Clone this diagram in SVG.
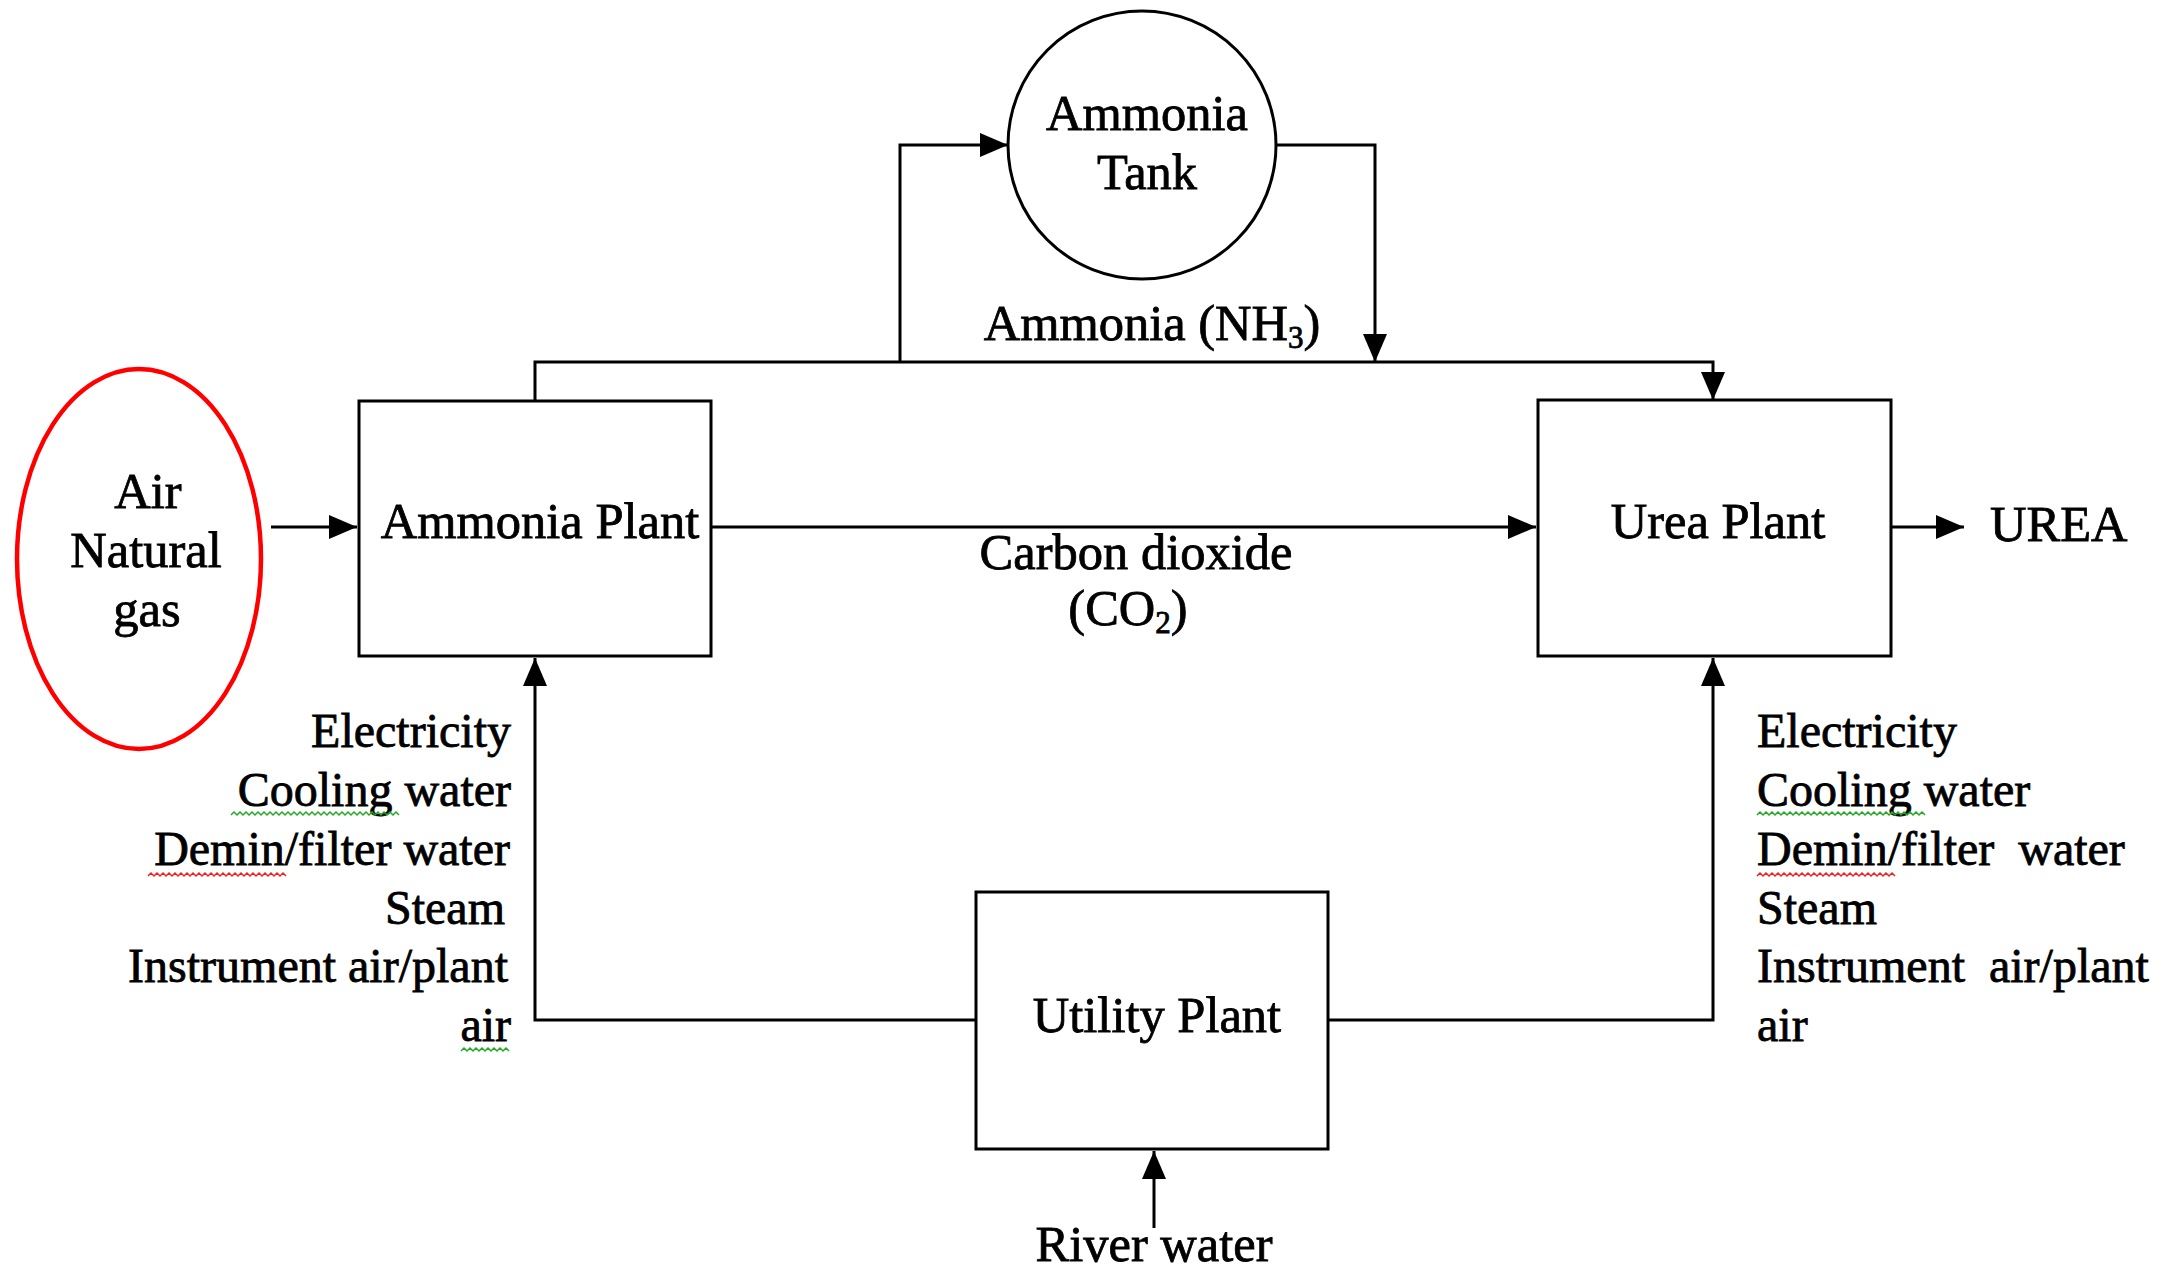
<svg xmlns="http://www.w3.org/2000/svg" width="2164" height="1269" viewBox="0 0 2164 1269">
<style>
.t{font-family:"Liberation Serif","Times New Roman",serif;font-size:48px;fill:#000;stroke:#000;stroke-width:0.8}
.b{font-size:50.5px}
.m{text-anchor:middle}
.e{text-anchor:end}
.box{fill:#fff;stroke:#000;stroke-width:3}
.ln{fill:none;stroke:#000;stroke-width:3}
.sq{fill:none;stroke-width:1.5}
</style>
<defs>
<marker id="ah" markerUnits="userSpaceOnUse" markerWidth="28" markerHeight="24" refX="28" refY="12" orient="auto">
<path d="M0,0 L28,12 L0,24 z" fill="#000"/>
</marker>
</defs>
<rect width="2164" height="1269" fill="#fff"/>
<g id="connectors">
<path class="ln" d="M271,527 H357" marker-end="url(#ah)"/>
<path class="ln" d="M711,527 H1536" marker-end="url(#ah)"/>
<path class="ln" d="M1891,527 H1964" marker-end="url(#ah)"/>
<path class="ln" d="M535,408 V362 H1713 V400" marker-end="url(#ah)"/>
<path class="ln" d="M900,362 V145 H1008" marker-end="url(#ah)"/>
<path class="ln" d="M1276,145 H1375 V362" marker-end="url(#ah)"/>
<path class="ln" d="M976,1020 H535 V658" marker-end="url(#ah)"/>
<path class="ln" d="M1327,1020 H1713 V658" marker-end="url(#ah)"/>
<path class="ln" d="M1154,1228 V1151" marker-end="url(#ah)"/>
</g>
<g id="air-gas">
<ellipse cx="139" cy="559" rx="122" ry="190" fill="none" stroke="#f00" stroke-width="4.5"/>
<text class="t b m" x="148" y="508">Air</text>
<text class="t b m" x="146" y="567">Natural</text>
<text class="t b m" x="147" y="626">gas</text>
</g>
<g id="ammonia-plant">
<rect class="box" x="359" y="401" width="352" height="255"/>
<text class="t b m" x="540" y="538">Ammonia Plant</text>
</g>
<g id="ammonia-tank">
<circle cx="1142" cy="145" r="134" fill="#fff" stroke="#000" stroke-width="3"/>
<text class="t b m" x="1147" y="130">Ammonia</text>
<text class="t b m" x="1147" y="189">Tank</text>
</g>
<g id="urea-plant">
<rect class="box" x="1538" y="400" width="353" height="256"/>
<text class="t b m" x="1718" y="538">Urea Plant</text>
</g>
<g id="urea-out">
<text class="t b" x="1990" y="541">UREA</text>
</g>
<g id="utility-plant">
<rect class="box" x="976" y="892" width="352" height="257"/>
<text class="t b m" x="1157" y="1032">Utility Plant</text>
</g>
<g id="labels">
<text class="t b m" x="1152" y="340">Ammonia (NH<tspan font-size="31" dy="8">3</tspan><tspan dy="-8">)</tspan></text>
<text class="t b m" x="1136" y="569">Carbon dioxide</text>
<text class="t b m" x="1128" y="625">(CO<tspan font-size="31" dy="8">2</tspan><tspan dy="-8">)</tspan></text>
<text class="t b m" x="1154" y="1261">River water</text>
</g>
<g id="left-utilities">
<text class="t e" x="511" y="747">Electricity</text>
<text class="t e" x="511" y="806">Cooling water</text>
<text class="t e" x="510" y="865">Demin/filter water</text>
<text class="t e" x="505" y="924">Steam</text>
<text class="t e" x="508" y="982">Instrument air/plant</text>
<text class="t e" x="511" y="1041">air</text>
<path class="sq" stroke="#2a2" d="M231,815 l3,-3 l3,3 l3,-3 l3,3 l3,-3 l3,3 l3,-3 l3,3 l3,-3 l3,3 l3,-3 l3,3 l3,-3 l3,3 l3,-3 l3,3 l3,-3 l3,3 l3,-3 l3,3 l3,-3 l3,3 l3,-3 l3,3 l3,-3 l3,3 l3,-3 l3,3 l3,-3 l3,3 l3,-3 l3,3 l3,-3 l3,3 l3,-3 l3,3 l3,-3 l3,3 l3,-3 l3,3 l3,-3 l3,3 l3,-3 l3,3 l3,-3 l3,3 l3,-3 l3,3 l3,-3 l3,3 l3,-3 l3,3 l3,-3 l3,3 l3,-3 l3,3"/>
<path class="sq" stroke="#e22" d="M148,876 l3,-3 l3,3 l3,-3 l3,3 l3,-3 l3,3 l3,-3 l3,3 l3,-3 l3,3 l3,-3 l3,3 l3,-3 l3,3 l3,-3 l3,3 l3,-3 l3,3 l3,-3 l3,3 l3,-3 l3,3 l3,-3 l3,3 l3,-3 l3,3 l3,-3 l3,3 l3,-3 l3,3 l3,-3 l3,3 l3,-3 l3,3 l3,-3 l3,3 l3,-3 l3,3 l3,-3 l3,3 l3,-3 l3,3 l3,-3 l3,3 l3,-3 l3,3"/>
<path class="sq" stroke="#2a2" d="M461,1051 l3,-3 l3,3 l3,-3 l3,3 l3,-3 l3,3 l3,-3 l3,3 l3,-3 l3,3 l3,-3 l3,3 l3,-3 l3,3 l3,-3 l3,3"/>
</g>
<g id="right-utilities">
<text class="t" x="1757" y="747">Electricity</text>
<text class="t" x="1757" y="806">Cooling water</text>
<text class="t" x="1757" y="865" xml:space="preserve">Demin/filter  water</text>
<text class="t" x="1757" y="924">Steam</text>
<text class="t" x="1757" y="982" xml:space="preserve">Instrument  air/plant</text>
<text class="t" x="1757" y="1041">air</text>
<path class="sq" stroke="#2a2" d="M1757,815 l3,-3 l3,3 l3,-3 l3,3 l3,-3 l3,3 l3,-3 l3,3 l3,-3 l3,3 l3,-3 l3,3 l3,-3 l3,3 l3,-3 l3,3 l3,-3 l3,3 l3,-3 l3,3 l3,-3 l3,3 l3,-3 l3,3 l3,-3 l3,3 l3,-3 l3,3 l3,-3 l3,3 l3,-3 l3,3 l3,-3 l3,3 l3,-3 l3,3 l3,-3 l3,3 l3,-3 l3,3 l3,-3 l3,3 l3,-3 l3,3 l3,-3 l3,3 l3,-3 l3,3 l3,-3 l3,3 l3,-3 l3,3 l3,-3 l3,3 l3,-3 l3,3"/>
<path class="sq" stroke="#e22" d="M1757,876 l3,-3 l3,3 l3,-3 l3,3 l3,-3 l3,3 l3,-3 l3,3 l3,-3 l3,3 l3,-3 l3,3 l3,-3 l3,3 l3,-3 l3,3 l3,-3 l3,3 l3,-3 l3,3 l3,-3 l3,3 l3,-3 l3,3 l3,-3 l3,3 l3,-3 l3,3 l3,-3 l3,3 l3,-3 l3,3 l3,-3 l3,3 l3,-3 l3,3 l3,-3 l3,3 l3,-3 l3,3 l3,-3 l3,3 l3,-3 l3,3 l3,-3 l3,3"/>
</g>
</svg>
